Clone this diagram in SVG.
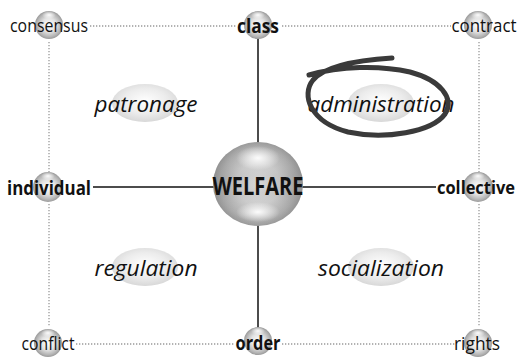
<svg xmlns="http://www.w3.org/2000/svg" width="521" height="359" viewBox="0 0 521 359">
<defs>
<radialGradient id="sph" cx="0.5" cy="0.5" r="0.5">
<stop offset="0" stop-color="#ffffff"/>
<stop offset="0.5" stop-color="#e2e2e2"/>
<stop offset="0.85" stop-color="#b4b4b4"/>
<stop offset="1" stop-color="#9a9a9a"/>
</radialGradient>
<radialGradient id="hl" cx="0.5" cy="0.5" r="0.5">
<stop offset="0" stop-color="#fff" stop-opacity="0.95"/>
<stop offset="1" stop-color="#fff" stop-opacity="0"/>
</radialGradient>
<linearGradient id="mid" x1="0" y1="0" x2="0" y2="1">
<stop offset="0" stop-color="#777" stop-opacity="0"/>
<stop offset="0.4" stop-color="#777" stop-opacity="0.3"/>
<stop offset="0.6" stop-color="#777" stop-opacity="0.3"/>
<stop offset="1" stop-color="#777" stop-opacity="0"/>
</linearGradient>
<radialGradient id="ell" cx="0.5" cy="0.45" r="0.55">
<stop offset="0" stop-color="#ffffff"/>
<stop offset="0.6" stop-color="#ececec"/>
<stop offset="1" stop-color="#d8d8d8"/>
</radialGradient>
</defs>
<style>
text{font-family:"Open Sans","Noto Sans","DejaVu Sans",sans-serif;fill:#111}
.c{font-size:18px;text-anchor:middle;dominant-baseline:central}
.b{font-size:20px;font-weight:bold;text-anchor:middle;dominant-baseline:central}
.i{font-size:22px;font-style:italic;text-anchor:middle;dominant-baseline:central}
.w{font-size:25px;font-weight:bold;text-anchor:middle;dominant-baseline:central}
.dot{stroke:#999;stroke-width:1.3;stroke-dasharray:1.3 1.7;fill:none}
.sol{stroke:#111;stroke-width:1.5;fill:none}
.s{fill:url(#sph)}
.h{fill:url(#hl)}
</style>
<g id="connectors">
<line class="dot" x1="90" y1="26" x2="236" y2="26"/>
<line class="dot" x1="282" y1="26" x2="451" y2="26"/>
<line class="dot" x1="49" y1="42" x2="49" y2="172"/>
<line class="dot" x1="49" y1="204" x2="49" y2="327"/>
<line class="dot" x1="479" y1="42" x2="479" y2="172"/>
<line class="dot" x1="479" y1="204" x2="479" y2="327"/>
<line class="dot" x1="76" y1="344" x2="234" y2="344"/>
<line class="dot" x1="282" y1="344" x2="455" y2="344"/>
<line class="sol" x1="258" y1="38" x2="258" y2="330"/>
<line class="sol" x1="93" y1="187" x2="436" y2="187"/>
</g>
<g id="consensus"><circle class="s" cx="49" cy="25" r="14"/><ellipse class="h" cx="49" cy="15" rx="7" ry="4"/><text class="c" x="49" y="25" textLength="78" lengthAdjust="spacingAndGlyphs">consensus</text></g>
<g id="class"><circle class="s" cx="258" cy="25" r="14"/><ellipse class="h" cx="258" cy="15" rx="7" ry="4"/><text class="b" x="258" y="25" textLength="42" lengthAdjust="spacingAndGlyphs">class</text></g>
<g id="contract"><circle class="s" cx="478" cy="25" r="14"/><ellipse class="h" cx="478" cy="15" rx="7" ry="4"/><text class="c" x="484" y="25" textLength="65" lengthAdjust="spacingAndGlyphs">contract</text></g>
<g id="individual"><circle class="s" cx="48" cy="187" r="15"/><ellipse class="h" cx="48" cy="176" rx="7" ry="4"/><text class="b" x="49" y="187" textLength="84" lengthAdjust="spacingAndGlyphs">individual</text></g>
<g id="collective"><circle class="s" cx="478" cy="187" r="15"/><ellipse class="h" cx="478" cy="176" rx="7" ry="4"/><text class="b" x="476" y="187" style="font-size:17px" textLength="78" lengthAdjust="spacingAndGlyphs">collective</text></g>
<g id="conflict"><circle class="s" cx="48" cy="343" r="14"/><ellipse class="h" cx="48" cy="333" rx="7" ry="4"/><text class="c" x="48" y="343" textLength="53" lengthAdjust="spacingAndGlyphs">conflict</text></g>
<g id="order"><circle class="s" cx="258" cy="341" r="14"/><ellipse class="h" cx="258" cy="331" rx="7" ry="4"/><text class="b" x="258" y="342" textLength="45" lengthAdjust="spacingAndGlyphs">order</text></g>
<g id="rights"><circle class="s" cx="478" cy="343" r="14"/><ellipse class="h" cx="478" cy="333" rx="7" ry="4"/><text class="c" x="477" y="343" textLength="46" lengthAdjust="spacingAndGlyphs">rights</text></g>
<g id="welfare"><ellipse class="s" cx="258" cy="184" rx="45" ry="42"/><ellipse cx="258" cy="184" rx="45" ry="42" fill="url(#mid)"/><ellipse class="h" cx="258" cy="158" rx="22" ry="12"/><ellipse class="h" cx="258" cy="212" rx="22" ry="10"/><text class="w" x="258" y="185" textLength="91" lengthAdjust="spacingAndGlyphs">WELFARE</text></g>
<g id="patronage"><ellipse cx="145" cy="103" rx="33" ry="19" fill="url(#ell)"/><text class="i" x="146" y="103" textLength="103" lengthAdjust="spacingAndGlyphs">patronage</text></g>
<g id="administration"><ellipse cx="381" cy="103" rx="33" ry="19" fill="url(#ell)"/><text class="i" x="381" y="103" textLength="147" lengthAdjust="spacingAndGlyphs">administration</text>
<path d="M392,58 C360,60 325,66 313,80 C301,95 310,122 348,132 C385,140 432,132 445,114 C455,98 440,80 410,72 C380,65 340,66 309,75" fill="none" stroke="#3a3a3a" stroke-width="5" stroke-linecap="round"/></g>
<g id="regulation"><ellipse cx="145" cy="267" rx="33" ry="19" fill="url(#ell)"/><text class="i" x="146" y="267" textLength="103" lengthAdjust="spacingAndGlyphs">regulation</text></g>
<g id="socialization"><ellipse cx="381" cy="267" rx="33" ry="19" fill="url(#ell)"/><text class="i" x="381" y="267" textLength="126" lengthAdjust="spacingAndGlyphs">socialization</text></g>
</svg>
